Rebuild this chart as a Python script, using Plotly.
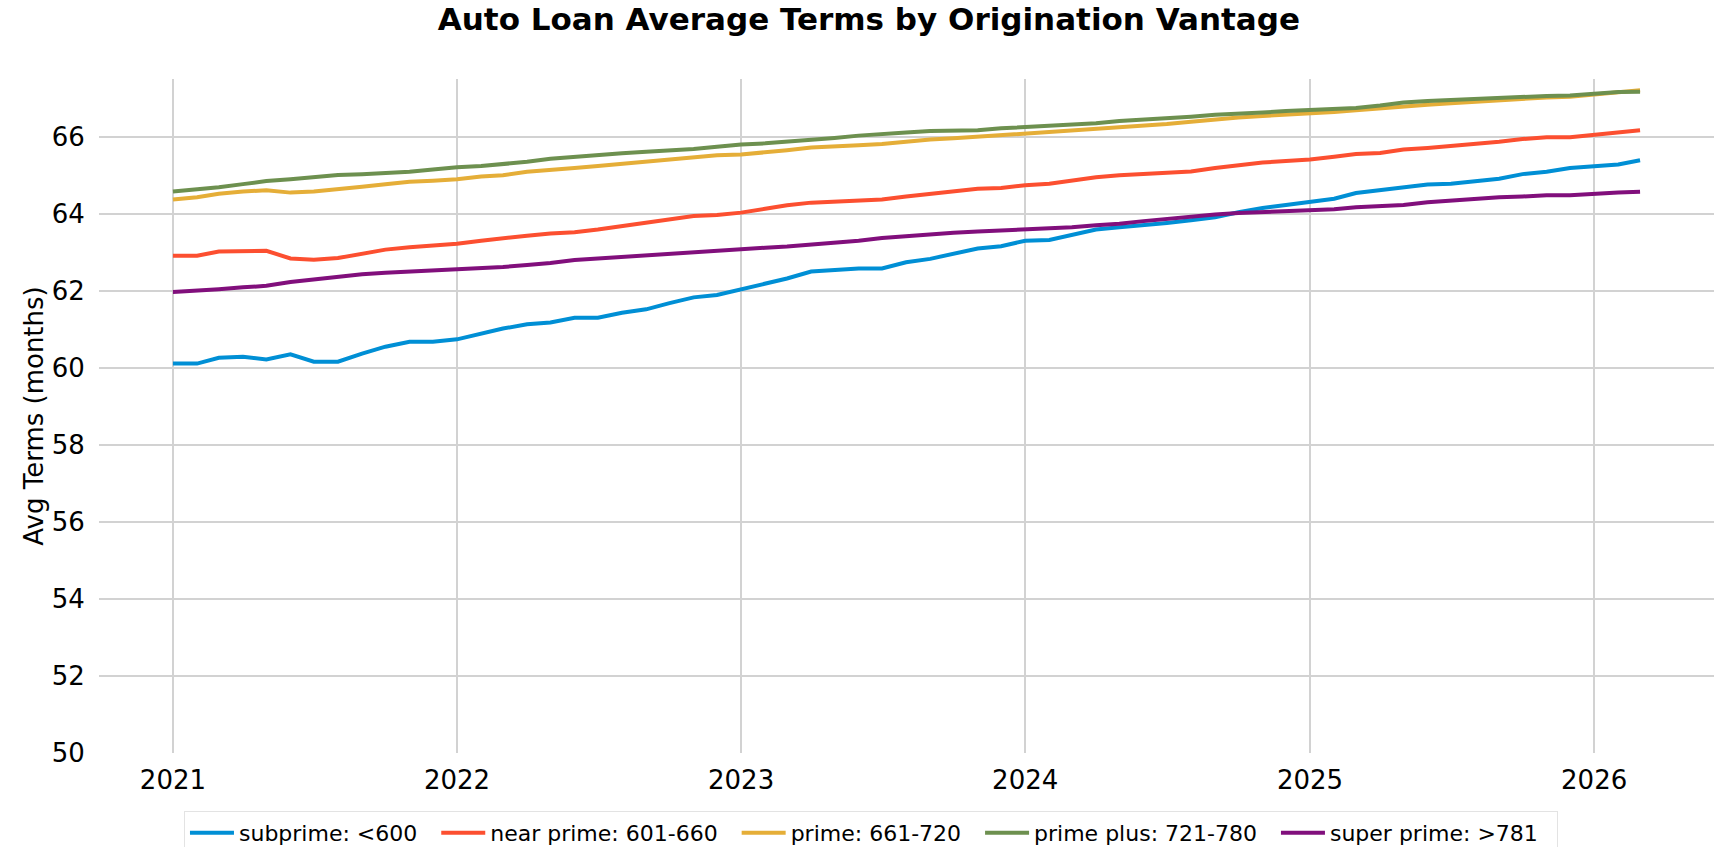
import pandas as pd
import plotly.graph_objects as go

# monthly, Jan 2021 .. Mar 2026
months = pd.date_range("2021-01-01", "2026-03-01", freq="MS")

subprime = [
    60.11, 60.11, 60.26, 60.29, 60.22, 60.35, 60.16, 60.16, 60.37, 60.55, 60.68, 60.68,
    60.74, 60.90, 61.02, 61.13, 61.18, 61.30, 61.30, 61.43, 61.52, 61.68, 61.83, 61.89,
    62.03, 62.17, 62.32, 62.50, 62.55, 62.58, 62.58, 62.74, 62.83, 62.95, 63.10, 63.16,
    63.30, 63.32, 63.46, 63.59, 63.65, 63.70, 63.76, 63.83, 63.91, 64.04, 64.15, 64.23,
    64.30, 64.39, 64.54, 64.61, 64.70, 64.76, 64.78, 64.84, 64.91, 65.03, 65.09, 65.19,
    65.24, 65.28, 65.39,
]
near_prime = [
    62.91, 62.91, 63.02, 63.04, 63.04, 62.84, 62.81, 62.85, 62.96, 63.07, 63.13, 63.17,
    63.22, 63.30, 63.37, 63.43, 63.49, 63.52, 63.59, 63.68, 63.78, 63.87, 63.94, 63.97,
    64.03, 64.13, 64.22, 64.29, 64.32, 64.35, 64.37, 64.45, 64.52, 64.57, 64.65, 64.67,
    64.74, 64.78, 64.87, 64.95, 65.00, 65.03, 65.06, 65.10, 65.19, 65.26, 65.33, 65.37,
    65.41, 65.48, 65.55, 65.58, 65.67, 65.71, 65.76, 65.82, 65.87, 65.94, 65.99, 65.99,
    66.06, 66.11, 66.17,
]
prime = [
    64.37, 64.43, 64.52, 64.58, 64.61, 64.55, 64.58, 64.63, 64.70, 64.77, 64.83, 64.86,
    64.90, 64.97, 65.00, 65.09, 65.15, 65.19, 65.24, 65.30, 65.35, 65.42, 65.47, 65.52,
    65.54, 65.59, 65.65, 65.72, 65.76, 65.78, 65.81, 65.87, 65.93, 65.96, 66.00, 66.04,
    66.09, 66.13, 66.16, 66.20, 66.26, 66.30, 66.33, 66.39, 66.45, 66.50, 66.54, 66.57,
    66.60, 66.64, 66.69, 66.74, 66.80, 66.83, 66.87, 66.91, 66.94, 66.97, 67.02, 67.04,
    67.10, 67.16, 67.21,
]
prime_plus = [
    64.58, 64.63, 64.69, 64.77, 64.85, 64.90, 64.96, 65.01, 65.03, 65.06, 65.09, 65.15,
    65.21, 65.24, 65.28, 65.35, 65.43, 65.48, 65.54, 65.57, 65.61, 65.64, 65.68, 65.74,
    65.80, 65.83, 65.87, 65.91, 65.97, 66.03, 66.06, 66.11, 66.15, 66.17, 66.17, 66.22,
    66.25, 66.29, 66.30, 66.35, 66.41, 66.44, 66.48, 66.52, 66.57, 66.59, 66.63, 66.67,
    66.70, 66.73, 66.75, 66.81, 66.89, 66.93, 66.96, 66.98, 67.02, 67.04, 67.06, 67.07,
    67.12, 67.16, 67.17,
]
super_prime = [
    61.97, 62.00, 62.04, 62.09, 62.13, 62.23, 62.30, 62.37, 62.43, 62.47, 62.50, 62.52,
    62.55, 62.58, 62.62, 62.67, 62.72, 62.80, 62.84, 62.90, 62.93, 62.97, 63.02, 63.04,
    63.09, 63.12, 63.15, 63.20, 63.23, 63.30, 63.37, 63.42, 63.46, 63.51, 63.54, 63.57,
    63.59, 63.61, 63.65, 63.70, 63.74, 63.81, 63.87, 63.93, 63.98, 64.02, 64.04, 64.06,
    64.08, 64.12, 64.17, 64.20, 64.23, 64.30, 64.35, 64.39, 64.43, 64.45, 64.48, 64.48,
    64.52, 64.55, 64.57,
]

series = [
    ("subprime: <600", subprime, "#008fd5"),
    ("near prime: 601-660", near_prime, "#fc4f30"),
    ("prime: 661-720", prime, "#e5ae38"),
    ("prime plus: 721-780", prime_plus, "#6d904f"),
    ("super prime: >781", super_prime, "#810f7c"),
]

fig = go.Figure()
for name, vals, color in series:
    fig.add_trace(go.Scatter(
        x=months, y=vals, name=name + "\u00a0\u00a0", mode="lines",
        line=dict(color=color, width=4),
    ))

font = "DejaVu Sans, Verdana, sans-serif"
fig.update_layout(
    width=1724, height=847,
    margin=dict(l=99, r=10, t=79, b=94, autoexpand=False),
    paper_bgcolor="white", plot_bgcolor="white",
    font=dict(family=font, color="#000000"),
    title=dict(
        text="<b>Auto Loan Average Terms by Origination Vantage</b>",
        x=0.504, xanchor="center", y=0.977, yanchor="middle",
        font=dict(size=31, family=font, color="#000000"),
    ),
    showlegend=True,
    legend=dict(
        orientation="h", x=0.478, xanchor="center", y=-0.086, yanchor="top",
        font=dict(size=22, family=font),
        bordercolor="#e3e3e3", borderwidth=1,
        itemwidth=44,
    ),
)
fig.update_xaxes(
    type="date",
    range=["2020-09-28", "2026-06-04"],
    dtick="M12", tick0="2021-01-01", tickformat="%Y",
    showgrid=True, gridcolor="#d2d2d2", gridwidth=2,
    zeroline=False, showline=False,
    ticks="outside", ticklen=4, tickcolor="rgba(0,0,0,0)",
    tickfont=dict(size=26, family=font),
)
fig.update_yaxes(
    range=[50, 67.5], dtick=2, tick0=50,
    showgrid=True, gridcolor="#d2d2d2", gridwidth=2,
    zeroline=False, showline=False,
    ticks="outside", ticklen=8, tickcolor="rgba(0,0,0,0)",
    tickfont=dict(size=26, family=font),
    title=dict(text="Avg Terms (months)", font=dict(size=26, family=font), standoff=0),
)

# drop the default page margin so the figure sits at the window's corner
fig.write_html(
    "out.html",
    config={"displayModeBar": False},
    post_script="document.body.style.margin='0';",
)
